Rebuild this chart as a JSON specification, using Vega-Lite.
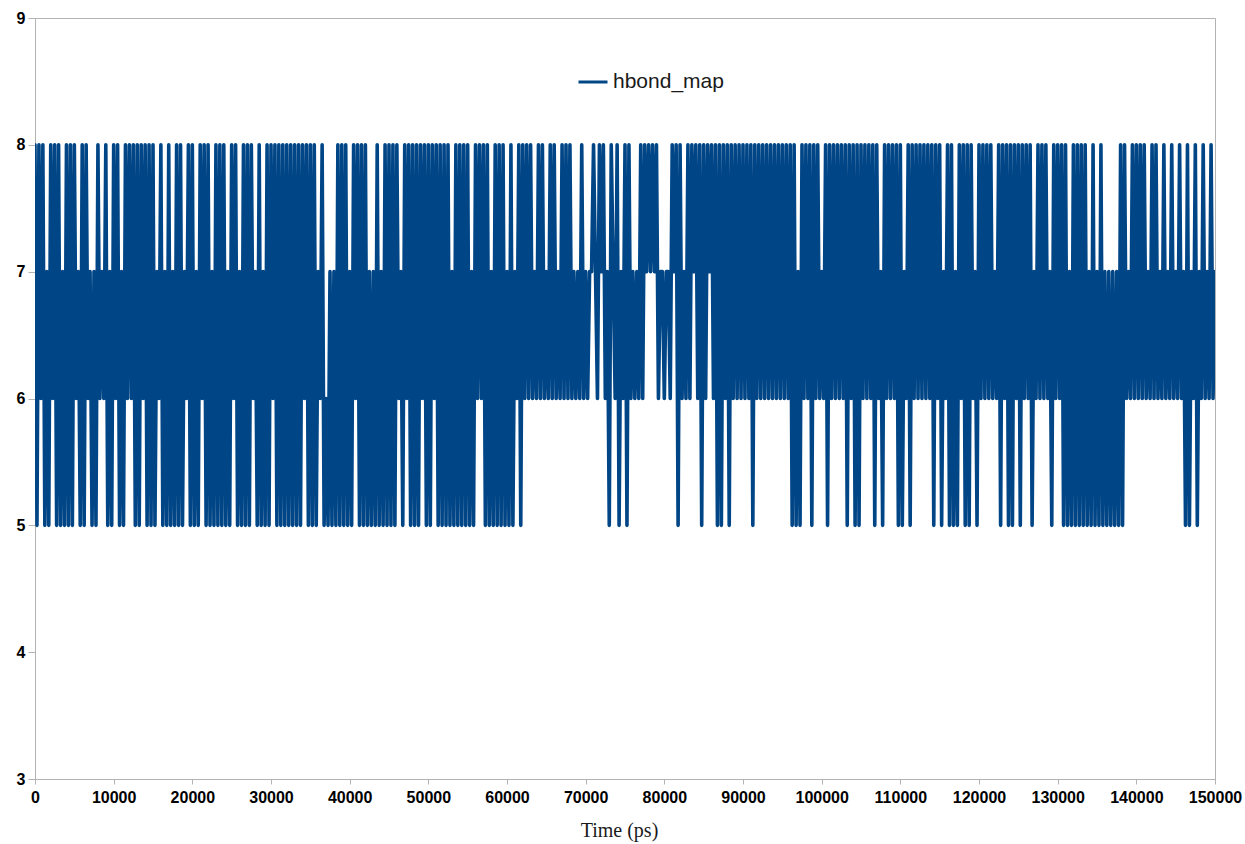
{
"$schema": "https://vega.github.io/schema/vega-lite/v6.json",
"width": 1180, "height": 761,
"autosize": {"type": "none"},
"padding": {"left": 35, "top": 18, "right": 30, "bottom": 65},
"background": "white",
"config": {"view": {"stroke": "#b3b3b3", "strokeWidth": 1}, "font": "Liberation Sans"},
"data": {"values": [
{"t":0,"v":8},{"t":250,"v":5},{"t":500,"v":8},{"t":750,"v":6},{"t":1000,"v":8},{"t":1250,"v":5},{"t":1500,"v":7},{"t":1750,"v":5},{"t":2000,"v":8},{"t":2250,"v":6},
{"t":2500,"v":8},{"t":2750,"v":5},{"t":3000,"v":8},{"t":3250,"v":5},{"t":3500,"v":7},{"t":3750,"v":5},{"t":4000,"v":8},{"t":4250,"v":5},{"t":4500,"v":8},{"t":4750,"v":5},
{"t":5000,"v":8},{"t":5250,"v":6},{"t":5500,"v":7},{"t":5750,"v":5},{"t":6000,"v":8},{"t":6250,"v":5},{"t":6500,"v":8},{"t":6750,"v":6},{"t":7000,"v":7},{"t":7250,"v":5},
{"t":7500,"v":7},{"t":7750,"v":5},{"t":8000,"v":8},{"t":8250,"v":6},{"t":8500,"v":7},{"t":8750,"v":6},{"t":9000,"v":8},{"t":9250,"v":5},{"t":9500,"v":7},{"t":9750,"v":5},
{"t":10000,"v":8},{"t":10250,"v":6},{"t":10500,"v":8},{"t":10750,"v":5},{"t":11000,"v":7},{"t":11250,"v":5},{"t":11500,"v":8},{"t":11750,"v":6},{"t":12000,"v":8},{"t":12250,"v":6},
{"t":12500,"v":8},{"t":12750,"v":5},{"t":13000,"v":8},{"t":13250,"v":5},{"t":13500,"v":8},{"t":13750,"v":6},{"t":14000,"v":8},{"t":14250,"v":5},{"t":14500,"v":8},{"t":14750,"v":5},
{"t":15000,"v":8},{"t":15250,"v":5},{"t":15500,"v":7},{"t":15750,"v":6},{"t":16000,"v":8},{"t":16250,"v":5},{"t":16500,"v":7},{"t":16750,"v":5},{"t":17000,"v":8},{"t":17250,"v":5},
{"t":17500,"v":7},{"t":17750,"v":5},{"t":18000,"v":8},{"t":18250,"v":5},{"t":18500,"v":8},{"t":18750,"v":5},{"t":19000,"v":7},{"t":19250,"v":6},{"t":19500,"v":8},{"t":19750,"v":5},
{"t":20000,"v":8},{"t":20250,"v":5},{"t":20500,"v":7},{"t":20750,"v":5},{"t":21000,"v":8},{"t":21250,"v":6},{"t":21500,"v":8},{"t":21750,"v":5},{"t":22000,"v":8},{"t":22250,"v":5},
{"t":22500,"v":7},{"t":22750,"v":5},{"t":23000,"v":8},{"t":23250,"v":5},{"t":23500,"v":8},{"t":23750,"v":5},{"t":24000,"v":8},{"t":24250,"v":5},{"t":24500,"v":7},{"t":24750,"v":5},
{"t":25000,"v":8},{"t":25250,"v":6},{"t":25500,"v":8},{"t":25750,"v":5},{"t":26000,"v":7},{"t":26250,"v":5},{"t":26500,"v":8},{"t":26750,"v":5},{"t":27000,"v":8},{"t":27250,"v":5},
{"t":27500,"v":8},{"t":27750,"v":6},{"t":28000,"v":7},{"t":28250,"v":5},{"t":28500,"v":8},{"t":28750,"v":5},{"t":29000,"v":7},{"t":29250,"v":5},{"t":29500,"v":8},{"t":29750,"v":5},
{"t":30000,"v":8},{"t":30250,"v":6},{"t":30500,"v":8},{"t":30750,"v":5},{"t":31000,"v":8},{"t":31250,"v":5},{"t":31500,"v":8},{"t":31750,"v":5},{"t":32000,"v":8},{"t":32250,"v":5},
{"t":32500,"v":8},{"t":32750,"v":5},{"t":33000,"v":8},{"t":33250,"v":5},{"t":33500,"v":8},{"t":33750,"v":5},{"t":34000,"v":8},{"t":34250,"v":6},{"t":34500,"v":8},{"t":34750,"v":5},
{"t":35000,"v":8},{"t":35250,"v":5},{"t":35500,"v":8},{"t":35750,"v":5},{"t":36000,"v":7},{"t":36250,"v":6},{"t":36500,"v":8},{"t":36750,"v":5},{"t":37000,"v":6},{"t":37250,"v":5},
{"t":37500,"v":7},{"t":37750,"v":5},{"t":38000,"v":7},{"t":38250,"v":5},{"t":38500,"v":8},{"t":38750,"v":5},{"t":39000,"v":8},{"t":39250,"v":5},{"t":39500,"v":8},{"t":39750,"v":5},
{"t":40000,"v":7},{"t":40250,"v":5},{"t":40500,"v":8},{"t":40750,"v":6},{"t":41000,"v":8},{"t":41250,"v":5},{"t":41500,"v":8},{"t":41750,"v":5},{"t":42000,"v":8},{"t":42250,"v":5},
{"t":42500,"v":7},{"t":42750,"v":5},{"t":43000,"v":7},{"t":43250,"v":5},{"t":43500,"v":8},{"t":43750,"v":5},{"t":44000,"v":7},{"t":44250,"v":5},{"t":44500,"v":8},{"t":44750,"v":5},
{"t":45000,"v":8},{"t":45250,"v":5},{"t":45500,"v":8},{"t":45750,"v":5},{"t":46000,"v":8},{"t":46250,"v":6},{"t":46500,"v":7},{"t":46750,"v":5},{"t":47000,"v":8},{"t":47250,"v":6},
{"t":47500,"v":8},{"t":47750,"v":5},{"t":48000,"v":8},{"t":48250,"v":5},{"t":48500,"v":8},{"t":48750,"v":5},{"t":49000,"v":8},{"t":49250,"v":6},{"t":49500,"v":8},{"t":49750,"v":5},
{"t":50000,"v":8},{"t":50250,"v":5},{"t":50500,"v":8},{"t":50750,"v":6},{"t":51000,"v":8},{"t":51250,"v":5},{"t":51500,"v":8},{"t":51750,"v":5},{"t":52000,"v":8},{"t":52250,"v":5},
{"t":52500,"v":8},{"t":52750,"v":5},{"t":53000,"v":7},{"t":53250,"v":5},{"t":53500,"v":8},{"t":53750,"v":5},{"t":54000,"v":8},{"t":54250,"v":5},{"t":54500,"v":8},{"t":54750,"v":5},
{"t":55000,"v":8},{"t":55250,"v":5},{"t":55500,"v":7},{"t":55750,"v":5},{"t":56000,"v":8},{"t":56250,"v":6},{"t":56500,"v":8},{"t":56750,"v":6},{"t":57000,"v":8},{"t":57250,"v":5},
{"t":57500,"v":8},{"t":57750,"v":5},{"t":58000,"v":7},{"t":58250,"v":5},{"t":58500,"v":8},{"t":58750,"v":5},{"t":59000,"v":8},{"t":59250,"v":5},{"t":59500,"v":8},{"t":59750,"v":5},
{"t":60000,"v":7},{"t":60250,"v":5},{"t":60500,"v":8},{"t":60750,"v":5},{"t":61000,"v":7},{"t":61250,"v":6},{"t":61500,"v":8},{"t":61750,"v":5},{"t":62000,"v":8},{"t":62250,"v":6},
{"t":62500,"v":8},{"t":62750,"v":6},{"t":63000,"v":8},{"t":63250,"v":6},{"t":63500,"v":7},{"t":63750,"v":6},{"t":64000,"v":8},{"t":64250,"v":6},{"t":64500,"v":8},{"t":64750,"v":6},
{"t":65000,"v":7},{"t":65250,"v":6},{"t":65500,"v":8},{"t":65750,"v":6},{"t":66000,"v":8},{"t":66250,"v":6},{"t":66500,"v":7},{"t":66750,"v":6},{"t":67000,"v":8},{"t":67250,"v":6},
{"t":67500,"v":8},{"t":67750,"v":6},{"t":68000,"v":8},{"t":68250,"v":6},{"t":68500,"v":7},{"t":68750,"v":6},{"t":69000,"v":7},{"t":69250,"v":6},{"t":69500,"v":8},{"t":69750,"v":6},
{"t":70000,"v":7},{"t":70250,"v":6},{"t":70500,"v":7},{"t":70750,"v":7},{"t":71000,"v":8},{"t":71250,"v":7},{"t":71500,"v":6},{"t":71750,"v":8},{"t":72000,"v":7},{"t":72250,"v":8},
{"t":72500,"v":6},{"t":72750,"v":7},{"t":73000,"v":5},{"t":73250,"v":8},{"t":73500,"v":7},{"t":73750,"v":6},{"t":74000,"v":8},{"t":74250,"v":5},{"t":74500,"v":7},{"t":74750,"v":6},
{"t":75000,"v":8},{"t":75250,"v":5},{"t":75500,"v":8},{"t":75750,"v":6},{"t":76000,"v":7},{"t":76250,"v":6},{"t":76500,"v":7},{"t":76750,"v":6},{"t":77000,"v":8},{"t":77250,"v":6},
{"t":77500,"v":8},{"t":77750,"v":7},{"t":78000,"v":8},{"t":78250,"v":7},{"t":78500,"v":8},{"t":78750,"v":7},{"t":79000,"v":8},{"t":79250,"v":6},{"t":79500,"v":7},{"t":79750,"v":7},
{"t":80000,"v":6},{"t":80250,"v":7},{"t":80500,"v":7},{"t":80750,"v":6},{"t":81000,"v":8},{"t":81250,"v":7},{"t":81500,"v":8},{"t":81750,"v":5},{"t":82000,"v":8},{"t":82250,"v":6},
{"t":82500,"v":7},{"t":82750,"v":6},{"t":83000,"v":8},{"t":83250,"v":6},{"t":83500,"v":8},{"t":83750,"v":7},{"t":84000,"v":8},{"t":84250,"v":6},{"t":84500,"v":8},{"t":84750,"v":5},
{"t":85000,"v":8},{"t":85250,"v":6},{"t":85500,"v":8},{"t":85750,"v":7},{"t":86000,"v":8},{"t":86250,"v":6},{"t":86500,"v":8},{"t":86750,"v":5},{"t":87000,"v":8},{"t":87250,"v":5},
{"t":87500,"v":8},{"t":87750,"v":6},{"t":88000,"v":8},{"t":88250,"v":5},{"t":88500,"v":8},{"t":88750,"v":6},{"t":89000,"v":8},{"t":89250,"v":6},{"t":89500,"v":8},{"t":89750,"v":6},
{"t":90000,"v":8},{"t":90250,"v":6},{"t":90500,"v":8},{"t":90750,"v":6},{"t":91000,"v":8},{"t":91250,"v":5},{"t":91500,"v":8},{"t":91750,"v":6},{"t":92000,"v":8},{"t":92250,"v":6},
{"t":92500,"v":8},{"t":92750,"v":6},{"t":93000,"v":8},{"t":93250,"v":6},{"t":93500,"v":8},{"t":93750,"v":6},{"t":94000,"v":8},{"t":94250,"v":6},{"t":94500,"v":8},{"t":94750,"v":6},
{"t":95000,"v":8},{"t":95250,"v":6},{"t":95500,"v":8},{"t":95750,"v":6},{"t":96000,"v":8},{"t":96250,"v":5},{"t":96500,"v":8},{"t":96750,"v":5},{"t":97000,"v":7},{"t":97250,"v":5},
{"t":97500,"v":8},{"t":97750,"v":6},{"t":98000,"v":8},{"t":98250,"v":6},{"t":98500,"v":8},{"t":98750,"v":5},{"t":99000,"v":8},{"t":99250,"v":6},{"t":99500,"v":8},{"t":99750,"v":6},
{"t":100000,"v":7},{"t":100250,"v":6},{"t":100500,"v":8},{"t":100750,"v":5},{"t":101000,"v":8},{"t":101250,"v":6},{"t":101500,"v":8},{"t":101750,"v":6},{"t":102000,"v":8},{"t":102250,"v":6},
{"t":102500,"v":8},{"t":102750,"v":6},{"t":103000,"v":8},{"t":103250,"v":5},{"t":103500,"v":8},{"t":103750,"v":6},{"t":104000,"v":8},{"t":104250,"v":5},{"t":104500,"v":8},{"t":104750,"v":5},
{"t":105000,"v":8},{"t":105250,"v":6},{"t":105500,"v":8},{"t":105750,"v":6},{"t":106000,"v":8},{"t":106250,"v":6},{"t":106500,"v":8},{"t":106750,"v":5},{"t":107000,"v":8},{"t":107250,"v":6},
{"t":107500,"v":7},{"t":107750,"v":5},{"t":108000,"v":8},{"t":108250,"v":6},{"t":108500,"v":8},{"t":108750,"v":6},{"t":109000,"v":8},{"t":109250,"v":6},{"t":109500,"v":8},{"t":109750,"v":5},
{"t":110000,"v":8},{"t":110250,"v":5},{"t":110500,"v":7},{"t":110750,"v":6},{"t":111000,"v":8},{"t":111250,"v":5},{"t":111500,"v":8},{"t":111750,"v":6},{"t":112000,"v":8},{"t":112250,"v":6},
{"t":112500,"v":8},{"t":112750,"v":6},{"t":113000,"v":8},{"t":113250,"v":6},{"t":113500,"v":8},{"t":113750,"v":6},{"t":114000,"v":8},{"t":114250,"v":5},{"t":114500,"v":8},{"t":114750,"v":6},
{"t":115000,"v":8},{"t":115250,"v":5},{"t":115500,"v":7},{"t":115750,"v":6},{"t":116000,"v":8},{"t":116250,"v":5},{"t":116500,"v":8},{"t":116750,"v":5},{"t":117000,"v":7},{"t":117250,"v":5},
{"t":117500,"v":8},{"t":117750,"v":6},{"t":118000,"v":8},{"t":118250,"v":5},{"t":118500,"v":8},{"t":118750,"v":5},{"t":119000,"v":8},{"t":119250,"v":6},{"t":119500,"v":7},{"t":119750,"v":5},
{"t":120000,"v":8},{"t":120250,"v":6},{"t":120500,"v":8},{"t":120750,"v":6},{"t":121000,"v":8},{"t":121250,"v":6},{"t":121500,"v":8},{"t":121750,"v":6},{"t":122000,"v":7},{"t":122250,"v":6},
{"t":122500,"v":8},{"t":122750,"v":5},{"t":123000,"v":8},{"t":123250,"v":6},{"t":123500,"v":8},{"t":123750,"v":5},{"t":124000,"v":8},{"t":124250,"v":5},{"t":124500,"v":8},{"t":124750,"v":6},
{"t":125000,"v":8},{"t":125250,"v":5},{"t":125500,"v":8},{"t":125750,"v":6},{"t":126000,"v":8},{"t":126250,"v":6},{"t":126500,"v":8},{"t":126750,"v":5},{"t":127000,"v":7},{"t":127250,"v":6},
{"t":127500,"v":8},{"t":127750,"v":6},{"t":128000,"v":8},{"t":128250,"v":6},{"t":128500,"v":8},{"t":128750,"v":6},{"t":129000,"v":7},{"t":129250,"v":5},{"t":129500,"v":8},{"t":129750,"v":6},
{"t":130000,"v":8},{"t":130250,"v":6},{"t":130500,"v":8},{"t":130750,"v":5},{"t":131000,"v":8},{"t":131250,"v":5},{"t":131500,"v":7},{"t":131750,"v":5},{"t":132000,"v":8},{"t":132250,"v":5},
{"t":132500,"v":8},{"t":132750,"v":5},{"t":133000,"v":8},{"t":133250,"v":5},{"t":133500,"v":8},{"t":133750,"v":5},{"t":134000,"v":7},{"t":134250,"v":5},{"t":134500,"v":8},{"t":134750,"v":5},
{"t":135000,"v":7},{"t":135250,"v":5},{"t":135500,"v":8},{"t":135750,"v":5},{"t":136000,"v":7},{"t":136250,"v":5},{"t":136500,"v":7},{"t":136750,"v":5},{"t":137000,"v":7},{"t":137250,"v":5},
{"t":137500,"v":7},{"t":137750,"v":5},{"t":138000,"v":8},{"t":138250,"v":5},{"t":138500,"v":8},{"t":138750,"v":6},{"t":139000,"v":7},{"t":139250,"v":6},{"t":139500,"v":8},{"t":139750,"v":6},
{"t":140000,"v":8},{"t":140250,"v":6},{"t":140500,"v":8},{"t":140750,"v":6},{"t":141000,"v":8},{"t":141250,"v":6},{"t":141500,"v":7},{"t":141750,"v":6},{"t":142000,"v":8},{"t":142250,"v":6},
{"t":142500,"v":8},{"t":142750,"v":6},{"t":143000,"v":7},{"t":143250,"v":6},{"t":143500,"v":8},{"t":143750,"v":6},{"t":144000,"v":7},{"t":144250,"v":6},{"t":144500,"v":8},{"t":144750,"v":6},
{"t":145000,"v":7},{"t":145250,"v":6},{"t":145500,"v":8},{"t":145750,"v":6},{"t":146000,"v":7},{"t":146250,"v":5},{"t":146500,"v":8},{"t":146750,"v":5},{"t":147000,"v":7},{"t":147250,"v":6},
{"t":147500,"v":8},{"t":147750,"v":5},{"t":148000,"v":7},{"t":148250,"v":6},{"t":148500,"v":8},{"t":148750,"v":6},{"t":149000,"v":7},{"t":149250,"v":6},{"t":149500,"v":8},{"t":149750,"v":6},
{"t":150000,"v":7}
]},
"mark": {"type": "line", "strokeWidth": 3.6, "strokeJoin": "round", "strokeCap": "round", "clip": true},
"encoding": {
  "x": {"field": "t", "type": "quantitative",
    "scale": {"domain": [0, 150000], "nice": false, "zero": false},
    "axis": {"title": "Time (ps)", "titleFont": "Liberation Serif", "titleFontWeight": "normal", "titleFontSize": 20, "titleColor": "#1a1a1a", "titlePadding": 15, "titleX": 584, "titleAlign": "center",
      "values": [0,10000,20000,30000,40000,50000,60000,70000,80000,90000,100000,110000,120000,130000,140000,150000],
      "format": "d", "labelFont": "Liberation Sans", "labelFontWeight": "bold", "labelFontSize": 16, "labelColor": "#000000", "labelPadding": 5, "labelFlush": false, "labelOverlap": false,
      "tickSize": 5, "tickColor": "#b3b3b3", "domainColor": "#b3b3b3", "grid": false}},
  "y": {"field": "v", "type": "quantitative",
    "scale": {"domain": [3, 9], "nice": false, "zero": false},
    "axis": {"title": null, "values": [3,4,5,6,7,8,9], "labelFont": "Liberation Sans", "labelFontWeight": "bold", "labelFontSize": 16, "labelColor": "#000000", "labelPadding": 3,
      "tickSize": 7, "tickColor": "#b3b3b3", "domainColor": "#b3b3b3", "grid": false}},
  "color": {"datum": "hbond_map", "type": "nominal", "scale": {"range": ["#004586"]},
    "legend": {"title": null, "orient": "none", "legendX": 542, "legendY": 48, "symbolType": "stroke", "symbolSize": 841, "symbolStrokeWidth": 3,
      "labelFont": "Liberation Sans", "labelFontSize": 21, "labelColor": "#1a1a1a", "labelOffset": 4}}
}
}
